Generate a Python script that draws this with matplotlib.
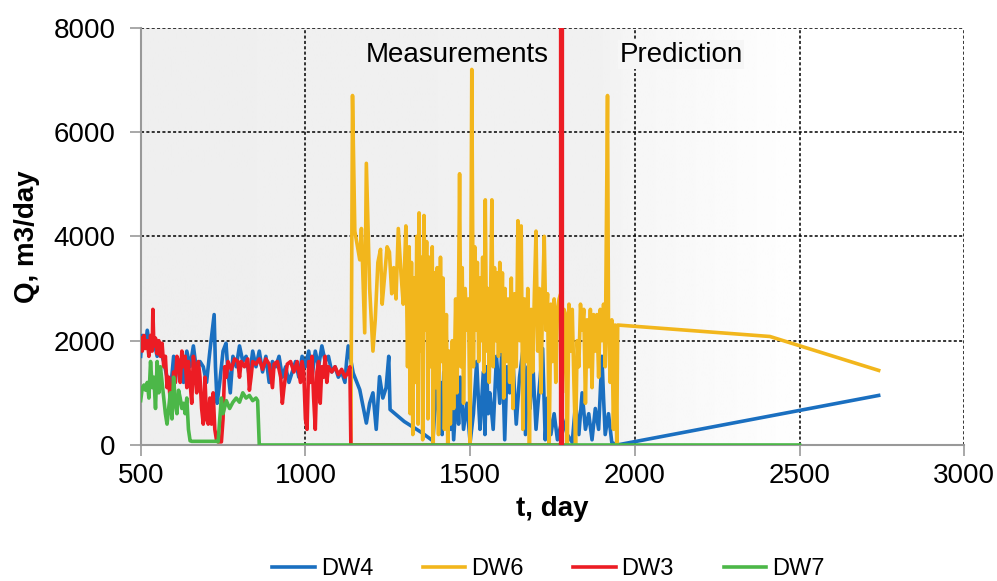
import numpy as np
import matplotlib.pyplot as plt

plt.rcParams['font.family'] = ['Liberation Sans', 'DejaVu Sans']

# DW4 (blue)
dw4_t = [500, 505, 515, 520, 530, 540, 550, 560, 570, 580, 590, 600, 605, 610, 620, 625, 630,
         640, 650, 660, 670, 680, 690, 700, 710, 723, 727, 732, 740, 750, 759, 765, 772, 780,
         790, 800, 810, 820, 830, 840, 850, 860, 870, 880, 890, 900, 910, 920, 930, 940, 950,
         960, 970, 980, 990, 1000, 1010, 1020, 1030, 1040, 1050, 1060, 1070, 1080, 1090, 1100,
         1110, 1120, 1125, 1130, 1145, 1165, 1185, 1195, 1205, 1215, 1225, 1235, 1245, 1253,
         1257, 1300, 1350, 1387, 1395, 1400, 1405, 1410, 1415, 1420, 1430, 1435, 1440, 1445,
         1450, 1460, 1465, 1470, 1475, 1480, 1490, 1500, 1510, 1520, 1525, 1530, 1540, 1545,
         1550, 1555, 1560, 1570, 1580, 1590, 1597, 1605, 1612, 1620, 1630, 1640, 1650, 1662,
         1668, 1675, 1682, 1690, 1700, 1710, 1720, 1728, 1735, 1745, 1755, 1765, 1780, 1795,
         1810, 1820, 1830, 1840, 1850, 1860, 1870, 1880, 1890, 1900, 1905, 1910, 1920, 1930,
         1946, 2740]
dw4_q = [1700, 2100, 1900, 2200, 1800, 2000, 1700, 1800, 1600, 1300, 1000, 1700, 1200, 1600,
         1400, 1700, 1200, 1800, 1500, 1900, 1400, 1600, 1500, 1200, 1800, 2500, 1500, 800,
         1200, 1800, 1950, 1400, 1000, 1700, 1500, 1900, 1600, 1700, 1300, 1800, 1500, 1800,
         1400, 1700, 1200, 1600, 1500, 1700, 1300, 1500, 1200, 1400, 1600, 1300, 1700, 1500,
         1800, 1300, 1800, 1500, 1900, 1600, 1700, 1400, 1500, 1300, 1400, 1200, 1600, 1900,
         1380, 1060, 420, 800, 1000, 300, 1310, 900, 1100, 1700, 680, 450, 250, 80, 900, 1300,
         500, 1200, 200, 1400, 600, 1700, 300, 1000, 100, 1200, 400, 1300, 900, 300, 800, 50,
         600, 1600, 900, 300, 1400, 200, 1500, 600, 1000, 300, 1700, 800, 2000, 100, 1500,
         1000, 1600, 400, 1300, 1900, 200, 1500, 700, 1600, 300, 1100, 1850, 100, 900, 200,
         600, 100, 500, 200, 50, 800, 200, 1000, 300, 600, 100, 700, 300, 1700, 900, 200, 600,
         50, 0, 950]

# DW6 (yellow)
dw6_t = [1138, 1143, 1150, 1158, 1165, 1170, 1180, 1185, 1195, 1205, 1212, 1220, 1228, 1233,
         1240, 1248, 1255, 1262, 1268, 1275, 1282, 1290, 1297, 1305, 1310, 1315, 1318, 1322,
         1326, 1330, 1334, 1338, 1342, 1345, 1349, 1353, 1356, 1360, 1364, 1368, 1372, 1376,
         1380, 1385, 1388, 1392, 1396, 1400, 1404, 1410, 1414, 1418, 1422, 1428, 1432, 1436,
         1440, 1446, 1450, 1456, 1460, 1465, 1468, 1472, 1476, 1480, 1485, 1490, 1495, 1500,
         1505, 1510, 1514, 1518, 1522, 1526, 1530, 1534, 1538, 1542, 1546, 1550, 1554, 1558,
         1562, 1566, 1570, 1574, 1578, 1582, 1586, 1590, 1594, 1598, 1602, 1606, 1610, 1615,
         1620, 1625, 1630, 1635, 1640, 1645, 1650, 1655, 1660, 1665, 1670, 1675, 1680, 1685,
         1690, 1695, 1700, 1705, 1710, 1715, 1720, 1725, 1730, 1735, 1740, 1745, 1750, 1755,
         1760, 1765, 1770, 1775, 1780, 1785, 1790, 1795, 1800, 1805, 1810, 1815, 1820, 1825,
         1830, 1835, 1840, 1845, 1850, 1855, 1860, 1865, 1870, 1875, 1880, 1885, 1890, 1895,
         1900, 1905, 1910, 1913, 1917, 1920, 1925, 1930, 1935, 1940, 1945, 1948, 2410, 2740]
dw6_q = [0, 6700, 4100, 3800, 3550, 4150, 2150, 5400, 3000, 1800, 2400, 3500, 3750, 2700,
         3200, 3800, 3700, 2900, 3400, 2800, 4150, 3300, 2700, 4200, 1500, 3800, 600, 3500,
         200, 3200, 1200, 4000, 400, 4450, 1800, 3600, 100, 4400, 2200, 3900, 500, 3600, 1500,
         3800, 0, 3300, 1100, 3400, 200, 3600, 1600, 3200, 300, 2500, 0, 1800, 400, 2000, 700,
         2800, 1000, 3000, 5200, 1500, 3400, 800, 3000, 2200, 2800, 0, 7200, 1500, 3800, 2200,
         3500, 1600, 3200, 2000, 3600, 1400, 4700, 1800, 3000, 1200, 2800, 4700, 1500, 3400,
         2000, 3300, 1700, 3500, 1800, 3300, 900, 3000, 1600, 2800, 1200, 3200, 700, 2900,
         1500, 4300, 2000, 4200, 300, 2800, 1600, 3000, 0, 2600, 1400, 2900, 4100, 1800, 3000,
         1000, 2800, 4000, 2200, 2900, 0, 2700, 1600, 2800, 1200, 2600, 2800, 2900, 1000, 2600,
         2500, 0, 2700, 1800, 2600, 1200, 0, 2000, 1500, 2700, 2200, 2600, 800, 2400, 1500,
         2600, 1100, 2500, 1800, 2500, 1300, 2600, 2000, 2700, 1500, 3700, 6700, 2300, 1200,
         2400, 300, 2300, 0, 2300, 2080, 1430]

# DW3 (red)
dw3_t = [500, 505, 510, 515, 520, 525, 530, 535, 537, 540, 545, 550, 555, 560, 565, 570, 575,
         580, 585, 590, 595, 600, 605, 610, 615, 620, 625, 630, 635, 640, 645, 650, 655, 660,
         665, 670, 675, 680, 685, 690, 695, 700, 705, 710, 715, 720, 725, 730, 735, 745, 750,
         755, 760, 765, 775, 785, 795, 800, 805, 815, 825, 830, 835, 840, 850, 860, 870, 880,
         890, 900, 905, 915, 925, 930, 935, 945, 955, 965, 975, 985, 990, 995, 1000, 1005,
         1010, 1015, 1020, 1025, 1030, 1035, 1040, 1045, 1050, 1055, 1060, 1065, 1070, 1080,
         1090, 1100, 1110, 1120, 1130, 1135, 1138, 1775]
dw3_q = [2050, 1800, 2100, 1850, 2000, 1700, 2100, 1800, 2600, 1900, 2050, 1750, 2000, 1700,
         1950, 1500, 1700, 1100, 1300, 800, 900, 1400, 1200, 1700, 1600, 1200, 1800, 1500,
         1700, 1100, 1600, 1200, 800, 1700, 1400, 1000, 1600, 1300, 700, 400, 1300, 500, 400,
         900, 400, 1000, 300, 100, 60, 60, 500, 1500, 1300, 1600, 1450, 1650, 1600, 1300, 1600,
         1500, 1650, 1050, 1300, 1600, 1550, 1650, 1450, 1650, 1550, 1100, 1550, 1600, 1300,
         800, 1100, 1550, 1600, 1400, 1600, 1200, 1600, 1400, 500, 300, 1600, 1200, 1700, 900,
         300, 1400, 1600, 800, 1500, 1300, 1700, 1200, 1500, 1400, 1500, 1350, 1450, 1300,
         1400, 1500, 0, 0]

# DW7 (green)
dw7_t = [500, 505, 510, 515, 520, 525, 530, 535, 540, 545, 550, 555, 560, 565, 570, 575, 580,
         585, 590, 595, 600, 605, 610, 615, 620, 625, 630, 635, 640, 645, 650, 655, 700, 730,
         735, 740, 745, 750, 760, 770, 780, 790, 800, 810, 820, 830, 840, 850, 855, 860, 865,
         2500]
dw7_q = [850, 1100, 1150, 1050, 1200, 900, 1600, 1100, 1300, 700, 1600, 1000, 1500, 1200, 900,
         600, 400, 700, 1000, 500, 1300, 800, 600, 1050, 900, 700, 800, 600, 900, 300, 80, 70,
         70, 70, 60, 500, 900, 600, 850, 700, 820, 900, 820, 1000, 900, 950, 850, 900, 850, 0,
         0, 0]

split_day = 1775
series = [('DW4', dw4_t, dw4_q, '#1a6fc0'),
          ('DW6', dw6_t, dw6_q, '#f2b61c'),
          ('DW3', dw3_t, dw3_q, '#ec1c24'),
          ('DW7', dw7_t, dw7_q, '#4cb748')]

fig = plt.figure(figsize=(9.97, 5.81), dpi=100)
ax = fig.add_axes([0.1411, 0.2341, 0.8261, 0.7182])

# background shading fading out after the measurement period
gx = np.linspace(500, 3000, 500)
shade = np.interp(gx, [500, 1900, 2000, 2550], [0.935, 0.945, 0.965, 1.0])
ax.imshow(shade[np.newaxis, :], extent=[500, 3000, 0, 8000], aspect='auto',
          cmap='gray', vmin=0, vmax=1, zorder=0, interpolation='bilinear')

for y in [2000, 4000, 6000, 8000]:
    ax.axhline(y, color='black', lw=1.1, ls=(0, (2, 1.5)), zorder=1)
for x in [1000, 2000, 2500, 3000]:
    ax.axvline(x, color='black', lw=1.1, ls=(0, (2, 1.5)), zorder=1)

for name, t, q, c in series:
    ax.plot(t, q, color=c, lw=2.6, label=name, zorder=3)

ax.axvline(split_day, color='#ec1c24', lw=3.8, zorder=4)

ax.text(1460, 7480, 'Measurements', fontsize=20, ha='center', va='center', zorder=5)
ax.text(2140, 7480, 'Prediction', fontsize=20, ha='center', va='center', zorder=5,
        bbox=dict(facecolor='#f6f6f6', edgecolor='none', pad=1))

ax.set_xlim(500, 3000)
ax.set_ylim(0, 8000)
ax.set_xticks([500, 1000, 1500, 2000, 2500, 3000])
ax.set_yticks([0, 2000, 4000, 6000, 8000])
ax.tick_params(labelsize=20, length=8, width=1.2, color='#999999', direction='out')
ax.tick_params(axis='x', pad=5)
ax.tick_params(axis='y', pad=10)
for s in ['top', 'right']:
    ax.spines[s].set_visible(False)
for s in ['left', 'bottom']:
    ax.spines[s].set_color('#999999')
    ax.spines[s].set_linewidth(1.5)

ax.set_xlabel('t, day', fontsize=20, fontweight='bold', labelpad=5)
ax.set_ylabel('Q, m3/day', fontsize=20, fontweight='bold', labelpad=10)

fig.legend(loc='lower center', bbox_to_anchor=(0.55, -0.035), ncol=4, frameon=False,
           fontsize=17, handlelength=1.8, handletextpad=0.25, columnspacing=2.1)

fig.savefig('out.png', dpi=100)
